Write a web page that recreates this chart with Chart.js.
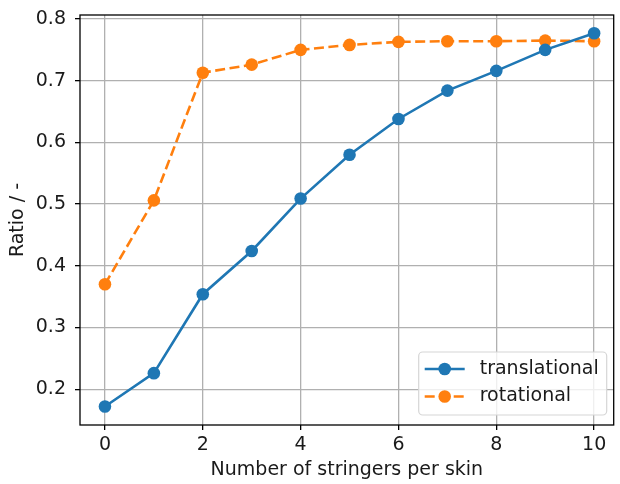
<!DOCTYPE html>
<html>
<head>
    <meta charset="UTF-8">
    <title>Stringer ratio</title>
    <script src="https://cdn.jsdelivr.net/npm/chart.js"></script>
    <style>
        body { margin: 0; background: #fff; }
        canvas { display: block; }
    </style>
</head>
<body>
    <canvas id="ratioChart" width="620" height="484"></canvas>
    <script>
        const stringers = [0, 1, 2, 3, 4, 5, 6, 7, 8, 9, 10];
        const translational = [0.172, 0.226, 0.354, 0.424, 0.509, 0.580, 0.638, 0.684, 0.716, 0.750, 0.777];
        const rotational = [0.370, 0.506, 0.713, 0.726, 0.750, 0.758, 0.763, 0.764, 0.764, 0.765, 0.764];
        const xTicks = [0, 2, 4, 6, 8, 10];
        const yTicks = [0.2, 0.3, 0.4, 0.5, 0.6, 0.7, 0.8];

        const FONT = "'DejaVu Sans', sans-serif";
        const blue = '#1f77b4';
        const orange = '#ff7f0e';

        function toPoints(ys) {
            return stringers.map((x, i) => ({ x: x, y: ys[i] }));
        }

        // box around the plot area (matplotlib spines)
        const frame = {
            id: 'frame',
            afterDatasetsDraw(chart) {
                const a = chart.chartArea;
                const ctx = chart.ctx;
                ctx.save();
                ctx.strokeStyle = '#000';
                ctx.lineWidth = 1.3;
                ctx.strokeRect(a.left, a.top, a.right - a.left, a.bottom - a.top);
                ctx.restore();
            }
        };

        // legend drawn inside the axes, lower right
        const innerLegend = {
            id: 'innerLegend',
            afterDraw(chart) {
                const ctx = chart.ctx;
                const a = chart.chartArea;
                const w = 188, h = 63;
                const x = a.right - 7 - w, y = a.bottom - 10 - h;
                ctx.save();
                ctx.beginPath();
                ctx.roundRect(x, y, w, h, 4);
                ctx.fillStyle = 'rgba(255,255,255,0.8)';
                ctx.fill();
                ctx.strokeStyle = '#d6d6d6';
                ctx.lineWidth = 1.2;
                ctx.stroke();
                chart.data.datasets.forEach((ds, i) => {
                    const cy = y + 17 + i * 27.5;
                    ctx.strokeStyle = ds.borderColor;
                    ctx.lineWidth = ds.borderWidth;
                    ctx.setLineDash(ds.borderDash || []);
                    ctx.beginPath();
                    ctx.moveTo(x + 6, cy);
                    ctx.lineTo(x + 46, cy);
                    ctx.stroke();
                    ctx.setLineDash([]);
                    ctx.fillStyle = ds.borderColor;
                    ctx.beginPath();
                    ctx.arc(x + 26, cy, ds.pointRadius, 0, Math.PI * 2);
                    ctx.fill();
                    ctx.fillStyle = '#1a1a1a';
                    ctx.font = '19px ' + FONT;
                    ctx.textBaseline = 'middle';
                    ctx.fillText(ds.label, x + 61, cy);
                });
                ctx.restore();
            }
        };

        const ctx = document.getElementById('ratioChart').getContext('2d');
        new Chart(ctx, {
            type: 'line',
            data: {
                datasets: [{
                    label: 'translational',
                    data: toPoints(translational),
                    borderColor: blue,
                    backgroundColor: blue,
                    borderWidth: 2.6,
                    pointRadius: 6.3,
                    pointBorderWidth: 0,
                    tension: 0
                }, {
                    label: 'rotational',
                    data: toPoints(rotational),
                    borderColor: orange,
                    backgroundColor: orange,
                    borderWidth: 2.6,
                    borderDash: [10, 4.5],
                    pointRadius: 6.3,
                    pointBorderWidth: 0,
                    tension: 0
                }]
            },
            options: {
                responsive: false,
                animation: false,
                layout: { padding: { left: 0, right: 2, top: 15, bottom: 0 } },
                plugins: {
                    legend: { display: false },
                    tooltip: { enabled: false }
                },
                scales: {
                    x: {
                        type: 'linear',
                        min: -0.51,
                        max: 10.4,
                        afterFit(scale) {
                            scale.height = 59;
                            scale.paddingLeft = 0;
                            scale.paddingRight = 0;
                        },
                        afterBuildTicks(scale) { scale.ticks = xTicks.map(v => ({ value: v })); },
                        ticks: {
                            color: '#1a1a1a',
                            font: { family: FONT, size: 19 },
                            padding: 4,
                            maxRotation: 0,
                            callback: v => String(v)
                        },
                        grid: { color: '#b0b0b0', lineWidth: 1.3, tickColor: '#000', tickLength: 5 },
                        border: { display: false },
                        title: {
                            display: true,
                            text: 'Number of stringers per skin',
                            color: '#1a1a1a',
                            font: { family: FONT, size: 19 },
                            padding: { top: 0, bottom: 3 }
                        }
                    },
                    y: {
                        min: 0.142,
                        max: 0.8065,
                        afterFit(scale) {
                            scale.width = 80;
                            scale.paddingTop = 0;
                            scale.paddingBottom = 0;
                        },
                        afterBuildTicks(scale) { scale.ticks = yTicks.map(v => ({ value: v })); },
                        ticks: {
                            color: '#1a1a1a',
                            font: { family: FONT, size: 19 },
                            padding: 9,
                            callback: v => v.toFixed(1)
                        },
                        grid: { color: '#b0b0b0', lineWidth: 1.3, tickColor: '#000', tickLength: 5 },
                        border: { display: false },
                        title: {
                            display: true,
                            text: 'Ratio / -',
                            color: '#1a1a1a',
                            font: { family: FONT, size: 19 },
                            padding: { top: 7, bottom: 0 }
                        }
                    }
                }
            },
            plugins: [frame, innerLegend]
        });
    </script>
</body>
</html>
